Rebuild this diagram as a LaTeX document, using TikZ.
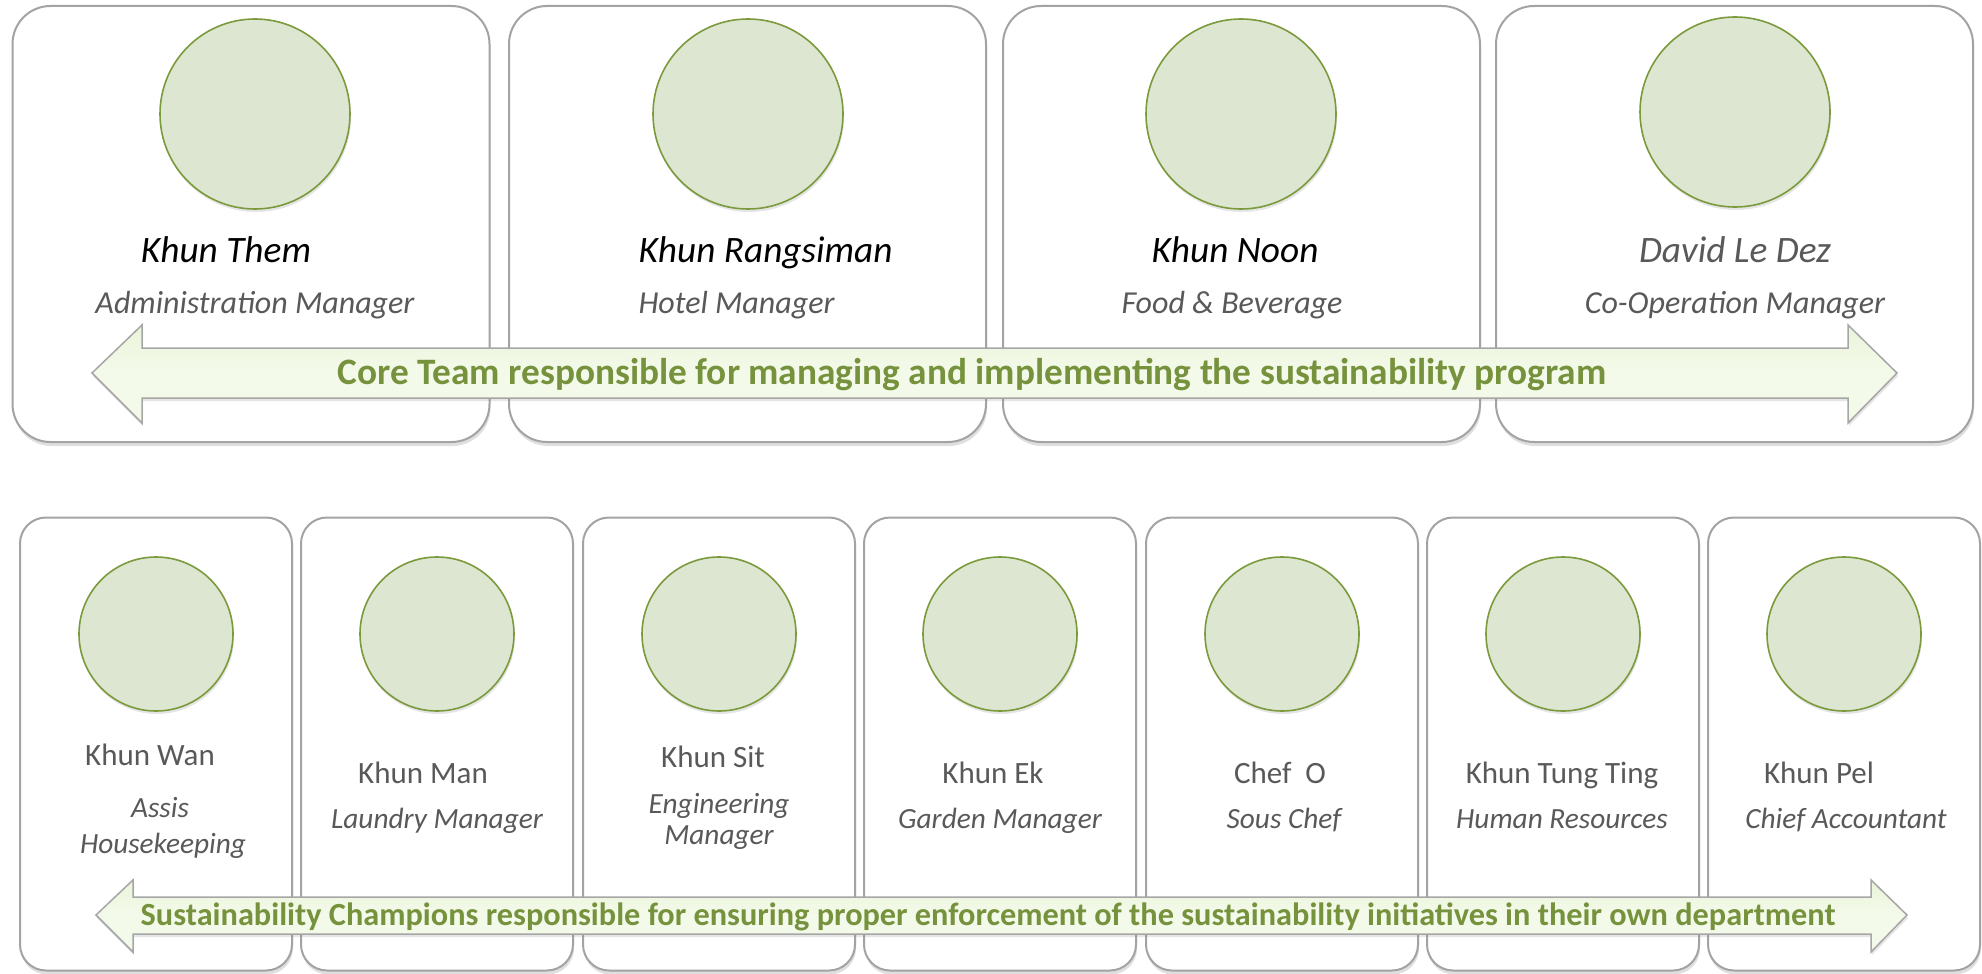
\documentclass[tikz,border=0pt]{standalone}
\usepackage{fontspec}
\setmainfont{Carlito}
\usetikzlibrary{shadows}
\definecolor{boxline}{HTML}{A3A3A3}
\definecolor{circfill}{HTML}{DDE6D0}
\definecolor{circline}{HTML}{7A9A3C}
\definecolor{txtgreen}{HTML}{76923C}
\definecolor{arrowA}{HTML}{EAF4DA}
\definecolor{arrowB}{HTML}{F4FAEA}
\definecolor{arrowline}{HTML}{A6A6A6}
\definecolor{greytxt}{HTML}{595959}
\begin{document}
\begin{tikzpicture}[x=1pt,y=-1pt,
  card/.style={draw=boxline, line width=2pt, fill=white, inner sep=0pt,
    drop shadow={shadow xshift=1pt, shadow yshift=-4pt, opacity=0.25}},
  topcard/.style={card, rounded corners=38pt, minimum width=477pt, minimum height=436pt},
  botcard/.style={card, rounded corners=26pt, minimum width=272pt, minimum height=453pt},
  photo/.style={circle, draw=circline, line width=1.6pt, fill=circfill, inner sep=0pt,
    drop shadow={shadow xshift=1pt, shadow yshift=-3pt, opacity=0.2}},
  topphoto/.style={photo, minimum size=190pt},
  botphoto/.style={photo, minimum size=154pt},
  topname/.style={anchor=base, font=\fontsize{37.3}{42}\selectfont\itshape},
  toprole/.style={anchor=base, text=greytxt, font=\fontsize{32}{37}\selectfont\itshape},
  botname/.style={anchor=base, text=greytxt, font=\fontsize{31}{35}\selectfont},
  botrole/.style={anchor=base, text=greytxt, font=\fontsize{29.3}{33}\selectfont\itshape},
  band/.style={draw=arrowline, line width=1.5pt, top color=arrowA, bottom color=arrowB, middle color=arrowB,
    drop shadow={shadow xshift=1pt, shadow yshift=-3pt, opacity=0.2}},
  bandtext/.style={anchor=base, text=txtgreen}
]
\useasboundingbox (0,0) rectangle (1982,974);

% ---------- top row ----------
\node[topcard] (c1) at (251,224) {};
\node[topcard] (c2) at (747.5,224) {};
\node[topcard] (c3) at (1241.5,224) {};
\node[topcard] (c4) at (1734.5,224) {};

\node[topphoto] (p1) at (255,114) {};
\node[topphoto] (p2) at (748,114) {};
\node[topphoto] (p3) at (1241,114) {};
\node[topphoto] (p4) at (1735,112) {};

\node[topname] (n1) at (226,262) {Khun Them};
\node[toprole] (r1) at (255,313) {Administration Manager};
\node[topname, anchor=base west] (n2) at (635,262) {Khun Rangsiman};
\node[toprole, anchor=base west] (r2) at (635,313) {Hotel Manager};
\node[topname] (n3) at (1235,262) {Khun Noon};
\node[toprole] (r3) at (1232,313) {Food \& Beverage};
\node[topname, text=greytxt] (n4) at (1735,262) {David Le Dez};
\node[toprole] (r4) at (1735,313) {Co-Operation Manager};

\draw[band] (92,373) -- (142,325) -- (142,348) -- (1848,348) -- (1848,325) -- (1897,373)
  -- (1848,423) -- (1848,398) -- (142,398) -- (142,423) -- cycle;
\node[bandtext, font=\bfseries\fontsize{37.3}{42}\selectfont] (t1) at (972,384)
  {Core Team responsible for managing and implementing the sustainability program};

% ---------- bottom row ----------
\node[botcard] (d1) at (156,744) {};
\node[botcard] (d2) at (437,744) {};
\node[botcard] (d3) at (719,744) {};
\node[botcard] (d4) at (1000,744) {};
\node[botcard] (d5) at (1282,744) {};
\node[botcard] (d6) at (1563,744) {};
\node[botcard] (d7) at (1844,744) {};

\node[botphoto] (q1) at (156,634) {};
\node[botphoto] (q2) at (437,634) {};
\node[botphoto] (q3) at (719,634) {};
\node[botphoto] (q4) at (1000,634) {};
\node[botphoto] (q5) at (1282,634) {};
\node[botphoto] (q6) at (1563,634) {};
\node[botphoto] (q7) at (1844,634) {};

\node[botname] (m1) at (150,765) {Khun Wan};
\node[botrole] (s1a) at (160,817) {Assis};
\node[botrole] (s1b) at (163,853) {Housekeeping};
\node[botname] (m2) at (423,783) {Khun Man};
\node[botrole] (s2) at (437,828) {Laundry Manager};
\node[botname] (m3) at (713,767) {Khun Sit};
\node[botrole] (s3a) at (719,813) {Engineering};
\node[botrole] (s3b) at (719,844) {Manager};
\node[botname] (m4) at (993,783) {Khun Ek};
\node[botrole] (s4) at (1000,828) {Garden Manager};
\node[botname] (m5) at (1280,783) {Chef\ \ O};
\node[botrole] (s5) at (1284,828) {Sous Chef};
\node[botname] (m6) at (1562,783) {Khun Tung Ting};
\node[botrole] (s6) at (1562,828) {Human Resources};
\node[botname] (m7) at (1819,783) {Khun Pel};
\node[botrole] (s7) at (1846,828) {Chief Accountant};

\draw[band] (96,915) -- (133,880) -- (133,897) -- (1871,897) -- (1871,880) -- (1907,915)
  -- (1871,952) -- (1871,934) -- (133,934) -- (133,952) -- cycle;
\node[bandtext, font=\bfseries\fontsize{32.3}{37}\selectfont] (t2) at (988,925)
  {Sustainability Champions responsible for ensuring proper enforcement of the sustainability initiatives in their own department};
\end{tikzpicture}
\end{document}
